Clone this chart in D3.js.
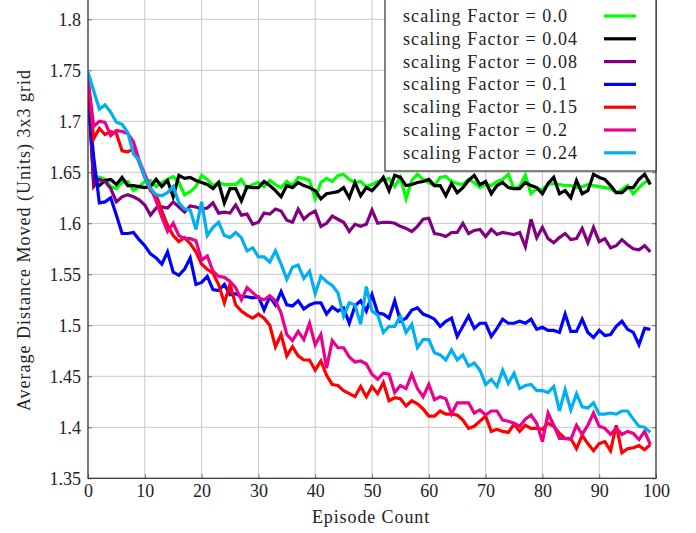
<!DOCTYPE html>
<html><head><meta charset="utf-8">
<script src="https://cdn.jsdelivr.net/npm/d3@7"></script>
<style>html,body{margin:0;padding:0;background:#fff;}svg{display:block;}</style>
</head><body>
<svg id="chart" width="696" height="533"></svg>
<script>
const episodes = d3.range(100);
const xTicks = [0,10,20,30,40,50,60,70,80,90,100];
const yTicks = [1.35,1.4,1.45,1.5,1.55,1.6,1.65,1.7,1.75,1.8];
const seriesNames = ["scaling Factor = 0.0","scaling Factor = 0.04","scaling Factor = 0.08","scaling Factor = 0.1","scaling Factor = 0.15","scaling Factor = 0.2","scaling Factor = 0.24"];
const seriesColors = ["#00ff00","#000000","#800080","#0000ff","#ff0000","#ec008c","#00b0f0"];

const sf000 = [1.738,1.646,1.645,1.643,1.636,1.634,1.640,1.641,1.632,1.636, 1.641,1.642,1.636,1.640,1.643,1.646,1.640,1.628,1.631,1.636, 1.647,1.643,1.637,1.640,1.638,1.638,1.638,1.643,1.634,1.638, 1.640,1.636,1.642,1.638,1.635,1.641,1.637,1.645,1.644,1.642, 1.624,1.640,1.644,1.641,1.647,1.648,1.643,1.640,1.641,1.636, 1.638,1.641,1.642,1.644,1.636,1.645,1.624,1.642,1.648,1.643, 1.640,1.637,1.645,1.646,1.641,1.639,1.638,1.643,1.640,1.635, 1.638,1.637,1.641,1.643,1.648,1.634,1.636,1.647,1.629,1.634, 1.633,1.638,1.639,1.638,1.637,1.637,1.635,1.636,1.638,1.637, 1.636,1.635,1.634,1.630,1.633,1.637,1.629,1.635,1.640,1.642];
const sf004 = [1.738,1.640,1.637,1.642,1.643,1.638,1.645,1.637,1.637,1.636, 1.635,1.636,1.643,1.636,1.642,1.626,1.647,1.644,1.645,1.642, 1.640,1.638,1.634,1.640,1.620,1.634,1.634,1.622,1.636,1.635, 1.635,1.641,1.637,1.632,1.626,1.637,1.635,1.640,1.637,1.635, 1.632,1.624,1.629,1.630,1.631,1.635,1.625,1.640,1.627,1.635, 1.632,1.638,1.645,1.632,1.647,1.645,1.637,1.638,1.640,1.641, 1.643,1.637,1.637,1.627,1.639,1.630,1.635,1.642,1.647,1.638, 1.641,1.629,1.637,1.640,1.635,1.634,1.634,1.640,1.637,1.635, 1.629,1.639,1.645,1.629,1.632,1.625,1.642,1.629,1.632,1.648, 1.645,1.643,1.637,1.630,1.630,1.635,1.635,1.643,1.648,1.638];
const sf008 = [1.738,1.636,1.643,1.641,1.634,1.621,1.626,1.628,1.626,1.623, 1.618,1.608,1.615,1.616,1.615,1.621,1.616,1.611,1.617,1.616, 1.614,1.615,1.620,1.610,1.611,1.610,1.618,1.608,1.609,1.599, 1.601,1.610,1.609,1.614,1.612,1.603,1.601,1.614,1.604,1.609, 1.612,1.597,1.600,1.607,1.604,1.601,1.592,1.599,1.597,1.599, 1.613,1.600,1.601,1.601,1.600,1.597,1.595,1.592,1.597,1.604, 1.605,1.590,1.589,1.587,1.591,1.591,1.600,1.590,1.593,1.594, 1.587,1.594,1.589,1.591,1.590,1.589,1.591,1.577,1.604,1.586, 1.596,1.585,1.581,1.586,1.590,1.584,1.585,1.595,1.581,1.596, 1.582,1.585,1.576,1.578,1.584,1.579,1.575,1.574,1.578,1.572];
const sf010 = [1.722,1.665,1.620,1.621,1.625,1.608,1.590,1.590,1.591,1.584, 1.578,1.570,1.566,1.560,1.572,1.552,1.549,1.555,1.566,1.540, 1.542,1.548,1.535,1.534,1.540,1.530,1.531,1.528,1.528,1.527, 1.528,1.515,1.528,1.520,1.533,1.520,1.519,1.524,1.516,1.520, 1.522,1.522,1.511,1.518,1.514,1.517,1.502,1.519,1.524,1.514, 1.530,1.512,1.511,1.507,1.524,1.504,1.507,1.515,1.517,1.511, 1.509,1.506,1.499,1.504,1.507,1.489,1.499,1.509,1.497,1.502, 1.502,1.489,1.497,1.506,1.502,1.502,1.504,1.502,1.506,1.496, 1.498,1.495,1.495,1.493,1.511,1.494,1.494,1.506,1.493,1.488, 1.495,1.490,1.491,1.499,1.504,1.496,1.493,1.481,1.497,1.496];
const sf015 = [1.740,1.683,1.693,1.687,1.690,1.688,1.671,1.670,1.673,1.660, 1.645,1.632,1.628,1.612,1.598,1.588,1.582,1.586,1.580,1.572, 1.560,1.555,1.551,1.540,1.522,1.540,1.520,1.514,1.510,1.507, 1.511,1.507,1.500,1.479,1.491,1.470,1.479,1.470,1.466,1.466, 1.456,1.465,1.451,1.442,1.441,1.436,1.433,1.430,1.440,1.430, 1.440,1.433,1.444,1.426,1.429,1.428,1.421,1.426,1.423,1.418, 1.411,1.411,1.416,1.413,1.413,1.412,1.407,1.399,1.401,1.406, 1.411,1.396,1.398,1.396,1.395,1.403,1.396,1.402,1.399,1.399, 1.398,1.404,1.401,1.394,1.389,1.389,1.379,1.392,1.384,1.377, 1.384,1.386,1.377,1.402,1.375,1.379,1.380,1.382,1.378,1.383];
const sf020 = [1.742,1.695,1.700,1.699,1.686,1.691,1.690,1.688,1.680,1.662, 1.648,1.635,1.622,1.606,1.592,1.600,1.588,1.585,1.585,1.583, 1.564,1.568,1.553,1.548,1.547,1.543,1.537,1.525,1.537,1.532, 1.527,1.525,1.529,1.524,1.512,1.491,1.485,1.494,1.486,1.502, 1.481,1.491,1.458,1.485,1.478,1.478,1.469,1.464,1.465,1.462, 1.452,1.447,1.453,1.452,1.434,1.441,1.438,1.452,1.438,1.430, 1.442,1.427,1.430,1.428,1.413,1.424,1.424,1.424,1.414,1.417, 1.412,1.416,1.416,1.407,1.406,1.404,1.401,1.408,1.412,1.404, 1.386,1.414,1.402,1.389,1.389,1.388,1.402,1.393,1.402,1.414, 1.401,1.399,1.393,1.399,1.393,1.396,1.394,1.388,1.396,1.383];
const sf024 = [1.748,1.730,1.712,1.716,1.709,1.699,1.697,1.689,1.668,1.662, 1.645,1.634,1.628,1.627,1.630,1.636,1.620,1.614,1.613,1.594, 1.621,1.588,1.596,1.601,1.588,1.586,1.591,1.586,1.573,1.576, 1.567,1.567,1.562,1.573,1.560,1.545,1.557,1.559,1.546,1.553, 1.531,1.548,1.543,1.539,1.532,1.509,1.522,1.520,1.501,1.538, 1.514,1.510,1.493,1.499,1.499,1.509,1.493,1.501,1.478,1.486, 1.486,1.473,1.471,1.466,1.476,1.466,1.471,1.460,1.463,1.456, 1.442,1.447,1.440,1.456,1.443,1.453,1.438,1.441,1.442,1.436, 1.436,1.434,1.440,1.416,1.437,1.417,1.433,1.420,1.419,1.424, 1.413,1.413,1.414,1.413,1.416,1.416,1.408,1.401,1.400,1.395];
const seriesValues = [sf000, sf004, sf008, sf010, sf015, sf020, sf024];

const FONT = "'Liberation Serif','Times New Roman',serif";
const svg = d3.select("#chart");
const L = 88, R = 656, B = 478.3, T = -1.1;
const x = d3.scaleLinear().domain([0,100]).range([L,R]);
const y = d3.scaleLinear().domain([1.35,1.82]).range([B,T]);

// grid
const g = svg.append("g");
g.selectAll(".vg").data(xTicks).join("line")
  .attr("x1",d=>x(d)).attr("x2",d=>x(d)).attr("y1",B).attr("y2",T)
  .attr("stroke","#c8c8c8").attr("stroke-width",1);
g.selectAll(".hg").data(yTicks).join("line")
  .attr("x1",L).attr("x2",R).attr("y1",d=>y(d)).attr("y2",d=>y(d))
  .attr("stroke","#c8c8c8").attr("stroke-width",1);

// axes via d3 axis (ticks inward)
const xAxis = svg.append("g").attr("transform",`translate(0,${B})`)
  .call(d3.axisBottom(x).tickValues(xTicks).tickSize(-4).tickPadding(10).tickFormat(d3.format("d")));
const yAxis = svg.append("g").attr("transform",`translate(${L},0)`)
  .call(d3.axisLeft(y).tickValues(yTicks).tickSize(-4).tickPadding(8).tickFormat(d=>String(+d.toFixed(2))));
const yAxisR = svg.append("g").attr("transform",`translate(${R},0)`)
  .call(d3.axisRight(y).tickValues(yTicks).tickSize(-4).tickFormat(""));
[xAxis,yAxis,yAxisR].forEach(a=>{
  a.attr("font-family",FONT).attr("font-size",18);
  a.select(".domain").remove();
  a.selectAll(".tick line").attr("stroke","#555").attr("stroke-width",0.8);
  a.selectAll("text").attr("font-family",FONT).attr("font-size",18).attr("fill","#222");
});
xAxis.selectAll("text").attr("dy",null).attr("y",19);
yAxis.selectAll("text").attr("dy","0.33em").attr("x",-7);

// lines
svg.append("clipPath").attr("id","clip").append("rect")
  .attr("x",L).attr("y",T).attr("width",R-L).attr("height",B-T);
const line = d3.line().x((d,i)=>x(episodes[i])).y(d=>y(d));
svg.append("g").attr("clip-path","url(#clip)")
  .selectAll("path").data(seriesValues).join("path")
  .attr("d",line).attr("fill","none")
  .attr("stroke",(d,i)=>seriesColors[i]).attr("stroke-width",3.2)
  .attr("stroke-linejoin","miter").attr("stroke-miterlimit",4);

// frame
svg.append("rect").attr("x",L).attr("y",T).attr("width",R-L).attr("height",B-T)
  .attr("fill","none").attr("stroke","#333").attr("stroke-width",1.2);

// legend
const lg = svg.append("g");
lg.append("rect").attr("x",385).attr("y",-2).attr("width",R-385).attr("height",173)
  .attr("fill","#fff").attr("stroke","#333").attr("stroke-width",1.2);
const rows = lg.selectAll(".row").data(seriesNames).join("g")
  .attr("transform",(d,i)=>`translate(0,${16 + i*22.8})`);
rows.append("text").attr("x",403).attr("y",6).text(d=>d)
  .attr("font-family",FONT).attr("font-size",18).attr("fill","#222").attr("letter-spacing","1.1px");
rows.append("line").attr("x1",604).attr("x2",636).attr("y1",0).attr("y2",0)
  .attr("stroke",(d,i)=>seriesColors[i]).attr("stroke-width",3.2);

// axis labels
svg.append("text").attr("x",371).attr("y",523).attr("text-anchor","middle")
  .attr("font-family",FONT).attr("font-size",18).attr("fill","#222").attr("letter-spacing","0.9px")
  .text("Episode Count");
svg.append("text").attr("transform","translate(30,240) rotate(-90)").attr("text-anchor","middle")
  .attr("font-family",FONT).attr("font-size",18).attr("fill","#222").attr("letter-spacing","1.0px")
  .text("Average Distance Moved (Units) 3x3 grid");
</script>
</body></html>
